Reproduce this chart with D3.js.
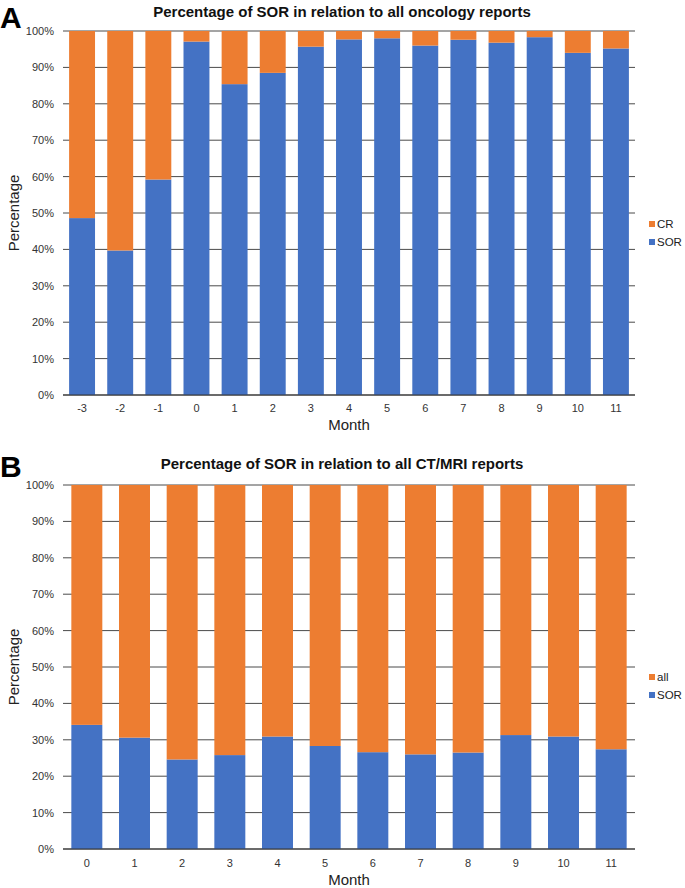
<!DOCTYPE html>
<html>
<head>
<meta charset="utf-8">
<script src="https://cdn.jsdelivr.net/npm/d3@7"></script>
<style>
  body { margin: 0; background: #fff; }
  svg { font-family: "Liberation Sans", Arial, sans-serif; }
</style>
</head>
<body>
<svg width="685" height="888"></svg>
<script>
  const monthsA = ['-3', '-2', '-1', '0', '1', '2', '3', '4', '5', '6', '7', '8', '9', '10', '11'];
  const sorA = [48.6, 39.7, 59.2, 97.1, 85.4, 88.5, 95.7, 97.7, 98.0, 96.0, 97.6, 96.8, 98.3, 94.0, 95.2];
  const crA = sorA.map(v => 100 - v);

  const monthsB = ['0', '1', '2', '3', '4', '5', '6', '7', '8', '9', '10', '11'];
  const sorB = [34.1, 30.6, 24.6, 25.8, 30.9, 28.3, 26.6, 26.0, 26.5, 31.3, 30.9, 27.4];
  const allB = sorB.map(v => 100 - v);

  const yTicks = [0, 10, 20, 30, 40, 50, 60, 70, 80, 90, 100];

  const blue = '#4472C4';
  const orange = '#ED7D31';

  const svg = d3.select('svg');

  const drawPanel = (cfg) => {
    const x0 = 63, x1 = 635;
    const g = svg.append('g').attr('transform', `translate(0,${cfg.top})`);
    const h = 364;

    const x = d3.scaleBand().domain(cfg.months).range([x0, x1]).paddingInner(cfg.pad).paddingOuter(cfg.pad / 2);
    const y = d3.scaleLinear().domain([0, 100]).range([h, 0]);

    // gridlines
    g.append('g').selectAll('line').data(yTicks).enter().append('line')
      .attr('x1', x0).attr('x2', x1)
      .attr('y1', d => y(d)).attr('y2', d => y(d))
      .attr('stroke', '#4a4a4a').attr('stroke-width', 1);

    // y tick labels
    g.append('g').selectAll('text').data(yTicks).enter().append('text')
      .attr('x', 54).attr('y', d => y(d) + 4)
      .attr('text-anchor', 'end')
      .attr('font-size', 11).attr('fill', '#333')
      .text(d => d + '%');

    const rows = cfg.months.map((m, i) => ({ m, lo: cfg.lower[i], hi: cfg.upper[i] }));

    g.append('g').selectAll('rect').data(rows).enter().append('rect')
      .attr('x', d => x(d.m)).attr('width', x.bandwidth())
      .attr('y', d => y(d.lo)).attr('height', d => y(0) - y(d.lo))
      .attr('fill', blue);

    g.append('g').selectAll('rect').data(rows).enter().append('rect')
      .attr('x', d => x(d.m)).attr('width', x.bandwidth())
      .attr('y', d => y(d.lo + d.hi)).attr('height', d => y(d.lo) - y(d.lo + d.hi))
      .attr('fill', orange);

    // baseline
    g.append('line').attr('x1', x0).attr('x2', x1).attr('y1', y(0)).attr('y2', y(0))
      .attr('stroke', '#333').attr('stroke-width', 1.2);

    // x tick labels
    g.append('g').selectAll('text').data(cfg.months).enter().append('text')
      .attr('x', d => x(d) + x.bandwidth() / 2).attr('y', h + cfg.tickDy)
      .attr('text-anchor', 'middle').attr('font-size', 11).attr('fill', '#333')
      .text(d => d);

    g.append('text').attr('x', (x0 + x1) / 2).attr('y', h + cfg.labelDy)
      .attr('text-anchor', 'middle').attr('font-size', 15).attr('fill', '#222')
      .text('Month');

    g.append('text')
      .attr('transform', `translate(19,${h / 2}) rotate(-90)`)
      .attr('text-anchor', 'middle').attr('font-size', 15).attr('fill', '#222')
      .text('Percentage');

    // title
    g.append('text').attr('x', 342).attr('y', cfg.titleDy)
      .attr('text-anchor', 'middle').attr('font-size', 15).attr('font-weight', 'bold')
      .attr('fill', '#111')
      .text(cfg.title);

    // panel letter
    g.append('text').attr('x', 0).attr('y', cfg.letterDy)
      .attr('font-size', 30).attr('font-weight', 'bold').attr('fill', '#000')
      .text(cfg.letter);

    // legend
    const leg = g.append('g').attr('transform', `translate(649,${cfg.legendDy})`);
    const items = [{ name: cfg.upperName, color: orange }, { name: cfg.lowerName, color: blue }];
    items.forEach((it, i) => {
      leg.append('rect').attr('x', 0).attr('y', i * 18 - 4).attr('width', 6).attr('height', 6).attr('fill', it.color);
      leg.append('text').attr('x', 8).attr('y', i * 18 + 2.5)
        .attr('font-size', 11.5).attr('fill', '#222').text(it.name);
    });
  };

  drawPanel({
    top: 31, months: monthsA, lower: sorA, upper: crA, pad: 0.32,
    title: 'Percentage of SOR in relation to all oncology reports',
    letter: 'A', lowerName: 'SOR', upperName: 'CR',
    tickDy: 17, labelDy: 35, titleDy: -14, letterDy: -3, legendDy: 194
  });

  drawPanel({
    top: 485, months: monthsB, lower: sorB, upper: allB, pad: 0.35,
    title: 'Percentage of SOR in relation to all CT/MRI reports',
    letter: 'B', lowerName: 'SOR', upperName: 'all',
    tickDy: 18, labelDy: 36, titleDy: -16, letterDy: -8, legendDy: 193
  });
</script>
</body>
</html>
